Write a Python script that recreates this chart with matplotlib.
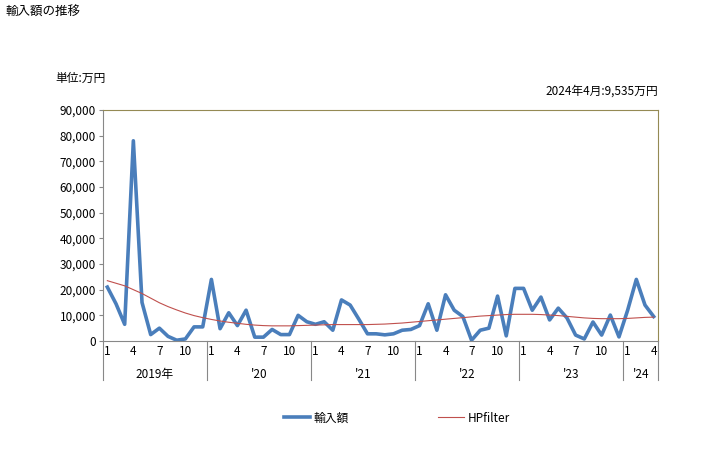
import matplotlib
matplotlib.use("Agg")
from matplotlib import pyplot as plt
from matplotlib.transforms import blended_transform_factory
import numpy as np

plt.rcParams['font.family'] = ['Noto Sans CJK JP', 'DejaVu Sans']

# monthly import values (10k yen), Jan 2019 - Apr 2024
imports = [21000, 14500, 6500, 78000, 15000, 2500, 5000, 1800, 300, 800, 5500, 5500,
           24000, 4800, 11000, 6000, 12000, 1500, 1500, 4500, 2500, 2500, 10000, 7500,
           6500, 7500, 4200, 16000, 14000, 8500, 2800, 2800, 2400, 2800, 4200, 4500,
           6000, 14500, 4200, 18000, 12000, 9500, 300, 4200, 5000, 17500, 2000, 20500,
           20500, 12000, 17100, 8200, 12800, 9000, 2300, 800, 7400, 2300, 10100, 1600,
           12000, 24000, 14000, 9535]
hp = [23500, 22500, 21500, 20000, 18500, 16700, 14900, 13400, 12100, 10900, 9900, 9100,
      8400, 7800, 7300, 6900, 6500, 6200, 6000, 5900, 5900, 5900, 6000, 6100,
      6200, 6300, 6400, 6400, 6400, 6400, 6400, 6500, 6600, 6800, 7000, 7300,
      7600, 7900, 8200, 8500, 8800, 9100, 9400, 9700, 9900, 10100, 10300, 10400,
      10400, 10400, 10300, 10100, 9900, 9600, 9300, 9000, 8800, 8700, 8700, 8700,
      8800, 9000, 9200, 9300]
years = ["2019年", "'20", "'21", "'22", "'23", "'24"]
months = [m for y in range(6) for m in range(1, 13)][:len(imports)]

x = np.arange(len(imports))

fig = plt.figure(figsize=(7.28, 4.5), dpi=100)
ax = fig.add_axes([103/728, 1-341/450, 555/728, 231/450])

ax.plot(x, imports, color='#4A7EBB', linewidth=2.6, label='輸入額', solid_joinstyle='round')
ax.plot(x, hp, color='#C0504D', linewidth=0.8, label='HPfilter')

ax.set_xlim(-0.5, len(x) - 0.5)
ax.set_ylim(0, 90000)
ax.set_yticks(np.arange(0, 90001, 10000))
ax.set_yticklabels([f"{v:,}" for v in range(0, 90001, 10000)], fontsize=8.5)

tick_idx = [i for i, m in enumerate(months) if m in (1, 4, 7, 10)]
ax.set_xticks(tick_idx)
ax.set_xticklabels([str(months[i]) for i in tick_idx], fontsize=8.5)
ax.tick_params(axis='x', length=0, pad=3)
ax.tick_params(axis='y', length=3, color='#888888', pad=2)

for s in ['top', 'right']:
    ax.spines[s].set_color('#948A54')
for s in ['left', 'bottom']:
    ax.spines[s].set_color('#888888')

# year separators and labels
tr = blended_transform_factory(ax.transData, ax.transAxes)
bounds = list(range(0, len(x), 12)) + [len(x)]
for b in bounds:
    ax.plot([b - 0.5, b - 0.5], [0, -0.17], color='#888888', linewidth=0.8,
            transform=tr, clip_on=False)
for k, lab in enumerate(years):
    mid = (bounds[k] + bounds[k + 1]) / 2 - 0.5
    ax.text(mid, -0.145, lab, transform=tr, ha='center', va='center', fontsize=8.5)

fig.text(5/728, 1-12/450, '輸入額の推移', fontsize=9, va='center', ha='left')
fig.text(55/728, 1-78/450, '単位:万円', fontsize=8.5, va='center', ha='left')
fig.text(658/728, 1-91/450, '2024年4月:9,535万円', fontsize=8.5, va='center', ha='right')

fig.legend(loc='center', bbox_to_anchor=(0.545, 1-418/450), ncol=2, frameon=False,
           fontsize=8.5, handlelength=2.2, columnspacing=7.6, handletextpad=0.3)

fig.savefig('out.png', dpi=100)
